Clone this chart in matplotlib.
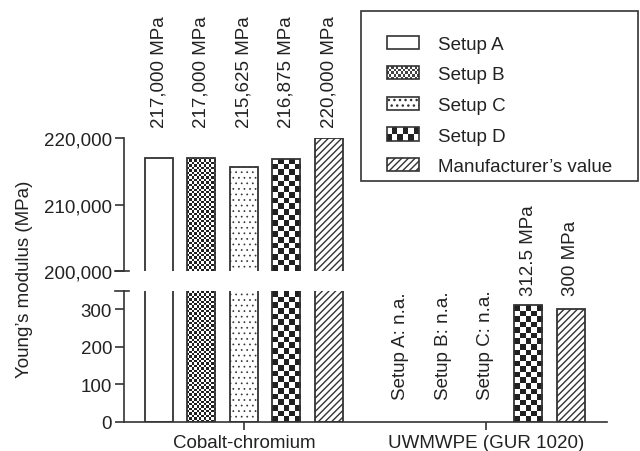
import numpy as np
import matplotlib
matplotlib.use('Agg')
import matplotlib.pyplot as plt
from matplotlib.patches import Patch, Rectangle
from matplotlib.ticker import FuncFormatter

plt.rcParams['font.family'] = ['Liberation Sans', 'DejaVu Sans']
plt.rcParams['hatch.color'] = '#333333'
plt.rcParams['hatch.linewidth'] = 1.0

# data
materials = ['Cobalt-chromium', 'UWMWPE (GUR 1020)']
setups = ['Setup A', 'Setup B', 'Setup C', 'Setup D', 'Manufacturer\u2019s value']
cocr_values = [217000, 217000, 215625, 216875, 220000]
uhmwpe_values = [np.nan, np.nan, np.nan, 312.5, 300]
cocr_labels = ['217,000 MPa', '217,000 MPa', '215,625 MPa', '216,875 MPa', '220,000 MPa']
uhmwpe_labels = ['Setup A: n.a.', 'Setup B: n.a.', 'Setup C: n.a.', '312.5 MPa', '300 MPa']
upper_ticks = [200000, 210000, 220000]
lower_ticks = [0, 100, 200, 300]

dark = '#333333'
txt = '#222222'
fs = 13.5
# '' plain, checker cells in px, or a matplotlib hatch
hatches = ['', 2.4, '...', 5.7, '/////']

group_pos = np.array([0.0, 5.69])
offsets = np.arange(5) - 2
bar_w = 0.66

fig = plt.figure(figsize=(6.4, 4.52), dpi=100)
ax_top = fig.add_axes([0.19375, 0.3982, 0.7547, 0.2943])
ax_bot = fig.add_axes([0.19375, 0.0648, 0.7547, 0.2898])


def checker_fill(ax, rect, cell_px):
  # fill a bar with a checkerboard image clipped to the bar
  x0, y0 = rect.get_x(), rect.get_y()
  w, h = rect.get_width(), rect.get_height()
  ylo, yhi = ax.get_ylim()
  y_top = min(y0 + h, yhi)
  y_bot = max(y0, ylo)
  if y_top <= y_bot:
    return
  bb = ax.get_position()
  ax_w = bb.width * fig.get_figwidth() * fig.dpi
  ax_h = bb.height * fig.get_figheight() * fig.dpi
  px_per_y = ax_h / (yhi - ylo)
  px_per_x = ax_w / (ax.get_xlim()[1] - ax.get_xlim()[0])
  nx = max(1, int(round(w * px_per_x / cell_px)))
  ny = max(1, int(round((y_top - y_bot) * px_per_y / cell_px)))
  grid = (np.indices((ny, nx)).sum(axis=0) % 2).astype(float)
  im = ax.imshow(grid, cmap='gray', vmin=-0.15, vmax=1, extent=[x0, x0 + w, y_bot, y_top],
                 aspect='auto', interpolation='nearest', origin='lower', zorder=1)
  im.set_clip_path(rect)


def draw_bars(ax):
  for gi, vals in enumerate([cocr_values, uhmwpe_values]):
    for si, v in enumerate(vals):
      if np.isnan(v):
        continue
      x = group_pos[gi] + offsets[si]
      h = hatches[si]
      is_checker = not isinstance(h, str)
      bars = ax.bar(x, v, width=bar_w, bottom=0, facecolor='none' if is_checker else 'white',
                    edgecolor=dark, linewidth=1.3,
                    hatch=h if (not is_checker and h) else None, zorder=2)
      if h == '...':
        bars[0].set_hatch_linewidth(0.5)
      if is_checker:
        checker_fill(ax, bars[0], h)


for ax in (ax_top, ax_bot):
  ax.set_xlim(-2.82, 8.54)
  for s in ['top', 'right']:
    ax.spines[s].set_visible(False)
  ax.spines['left'].set_color(dark)
  ax.spines['left'].set_linewidth(1.2)
  ax.tick_params(axis='y', length=6.5, width=1.2, color=dark, labelsize=fs,
                 labelcolor=txt, pad=2)

ax_top.set_ylim(200000, 220000)
ax_bot.set_ylim(0, 350)
ax_top.set_yticks(upper_ticks)
ax_top.yaxis.set_major_formatter(FuncFormatter(lambda v, p: '{:,.0f}'.format(v)))
ax_bot.set_yticks(lower_ticks)
ax_top.spines['bottom'].set_visible(False)
ax_top.set_xticks([])
ax_bot.spines['bottom'].set_color(dark)
ax_bot.spines['bottom'].set_linewidth(1.2)
ax_bot.set_xticks(group_pos)
ax_bot.set_xticklabels(materials)
ax_bot.tick_params(axis='x', length=6, width=1.2, color=dark, labelsize=fs,
                   labelcolor=txt, pad=3)

draw_bars(ax_top)
draw_bars(ax_bot)
for ax in (ax_top, ax_bot):
  ax.set_xlim(-2.82, 8.54)
ax_top.set_ylim(200000, 220000)
ax_bot.set_ylim(0, 350)

# break caps on the left spine
ax_top.plot([-0.0186, 0.0104], [0, 0], transform=ax_top.transAxes, color=dark,
            lw=1.2, clip_on=False)
ax_bot.plot([-0.0186, 0.0104], [1, 1], transform=ax_bot.transAxes, color=dark,
            lw=1.2, clip_on=False)

# value labels
for si, lab in enumerate(cocr_labels):
  ax_top.text(group_pos[0] + offsets[si], 221650, lab, rotation=90, ha='center',
              va='bottom', fontsize=fs, color=txt, clip_on=False)
for si, lab in enumerate(uhmwpe_labels):
  y = 60 if np.isnan(uhmwpe_values[si]) else 339
  ax_bot.text(group_pos[1] + offsets[si], y, lab, rotation=90, ha='center',
              va='bottom', fontsize=fs, color=txt, clip_on=False)

fig.text(25 / 640, 1 - 279 / 452, 'Young\u2019s modulus (MPa)', rotation=90,
         ha='center', va='center', fontsize=fs, color=txt)


class CheckerHandler:
  nx, ny, fill = 6, 2, txt

  def legend_artist(self, legend, orig_handle, fontsize, handlebox):
    x0, y0 = -handlebox.xdescent, -handlebox.ydescent
    w, h = handlebox.width, handlebox.height
    tr = handlebox.get_transform()
    for i in range(self.nx):
      for j in range(self.ny):
        if (i + j) % 2 == 0:
          handlebox.add_artist(Rectangle((x0 + i * w / self.nx, y0 + j * h / self.ny),
                                         w / self.nx, h / self.ny, facecolor=self.fill,
                                         edgecolor='none', transform=tr))
    frame = Rectangle((x0, y0), w, h, facecolor='none', edgecolor=dark, lw=1.2, transform=tr)
    handlebox.add_artist(frame)
    return frame


class FineCheckerHandler(CheckerHandler):
  nx, ny, fill = 14, 5, '#444444'


handles = []
for si, name in enumerate(setups):
  h = hatches[si]
  p = Patch(facecolor='white', edgecolor=dark, linewidth=1.2,
            hatch=h if (isinstance(h, str) and h) else None, label=name)
  if h == '...':
    p.set_hatch_linewidth(0.5)
  handles.append(p)
leg = fig.legend(handles=handles, loc='upper left',
                 bbox_to_anchor=(386.5 / 640, 1 - 36.5 / 452),
                 borderaxespad=0, borderpad=0, fontsize=fs, frameon=False,
                 handlelength=1.75, handleheight=0.7,
                 handletextpad=1.0, labelspacing=0.72,
                 handler_map={handles[1]: FineCheckerHandler(), handles[3]: CheckerHandler()})
for t in leg.get_texts():
  t.set_color(txt)

# legend frame drawn as a plain box
fig.add_artist(Rectangle((361 / 640, 1 - 181.7 / 452), 277 / 640, 170 / 452,
                         transform=fig.transFigure, fill=False, edgecolor=dark, lw=1.2))

fig.savefig('out.png', dpi=100)
